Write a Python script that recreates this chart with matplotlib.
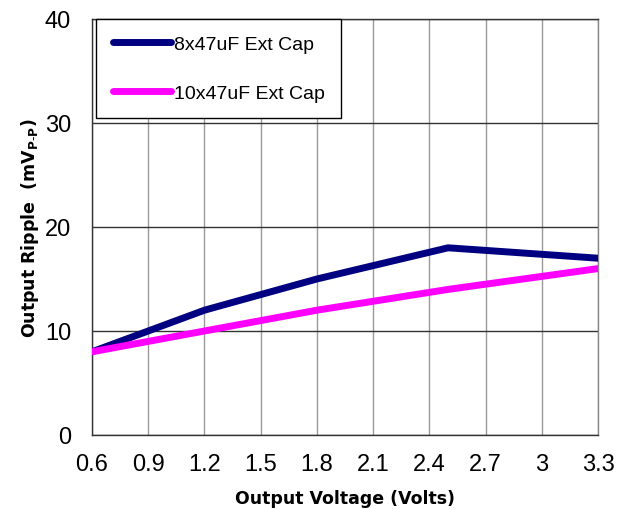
import matplotlib.pyplot as plt

# data
vout = [0.6, 1.2, 1.8, 2.5, 3.3]
ripple_8cap = [8, 12, 15, 18, 17]
ripple_10cap = [8, 10, 12, 14, 16]
xticks = [0.6, 0.9, 1.2, 1.5, 1.8, 2.1, 2.4, 2.7, 3.0, 3.3]
xtick_labels = ['0.6', '0.9', '1.2', '1.5', '1.8', '2.1', '2.4', '2.7', '3', '3.3']
yticks = [0, 10, 20, 30, 40]

fig = plt.figure(figsize=(6.27, 5.10), dpi=100)
ax = fig.add_axes([92/627, 74/510, 506/627, 416/510])

ax.plot(vout, ripple_8cap, color='#000080', lw=5, label='8x47uF Ext Cap',
        solid_capstyle='round', zorder=3)
ax.plot(vout, ripple_10cap, color='#FF00FF', lw=5, label='10x47uF Ext Cap',
        solid_capstyle='round', zorder=3)

ax.set_xlim(0.6, 3.3)
ax.set_ylim(0, 40)
ax.set_xticks(xticks)
ax.set_xticklabels(xtick_labels, fontsize=17, family='Liberation Sans')
ax.set_yticks(yticks)
ax.set_yticklabels([str(t) for t in yticks], fontsize=17, family='Liberation Sans')
ax.tick_params(axis='x', length=0, pad=13)
ax.tick_params(axis='y', length=0, pad=15)

ax.xaxis.grid(True, color='#999999', lw=1)
ax.yaxis.grid(True, color='#333333', lw=1)
for s in ax.spines.values():
    s.set_color('#333333')
    s.set_linewidth(1)
ax.spines['right'].set_color('#888888')

ax.set_xlabel('Output Voltage (Volts)', fontsize=12.5, fontweight='bold', labelpad=10)
ax.set_ylabel('Output Ripple  (mV$_{\\mathbf{P\\text{-}P}}$)', fontsize=12.5,
              fontweight='bold', labelpad=3)

leg = ax.legend(loc='upper left', prop={'family': 'Liberation Sans', 'size': 14},
                frameon=True, fancybox=False, edgecolor='black', framealpha=1,
                handlelength=3.0, handletextpad=0.15, labelspacing=1.6,
                borderpad=0.85, borderaxespad=0, bbox_to_anchor=(4/506, 1.0))
leg.get_frame().set_linewidth(1)

fig.savefig('out.png', dpi=100)
